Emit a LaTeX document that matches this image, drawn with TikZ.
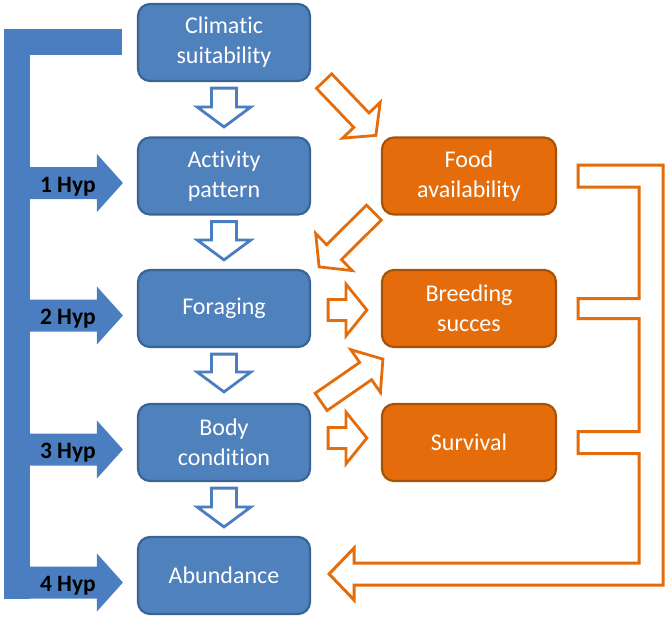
\documentclass[tikz,border=0pt]{standalone}
\usepackage{fontspec}
\setmainfont{Carlito}[Ligatures=NoCommon]
\usetikzlibrary{calc}
\definecolor{bfill}{HTML}{4F81BD}
\definecolor{bline}{HTML}{3A6496}
\definecolor{barw}{HTML}{4A7EC0}
\definecolor{ofill}{HTML}{E46C0A}
\definecolor{oline}{HTML}{A65208}
\tikzset{
 bbox/.style={draw=bline, line width=2.2pt, fill=bfill, rounded corners=12pt,
   minimum width=172pt, minimum height=77pt, text=white, align=center,
   font=\fontsize{24}{30}\selectfont, inner sep=0pt},
 obox/.style={bbox, draw=oline, fill=ofill, minimum width=174pt},
 barrowstyle/.style={draw=barw, line width=2.8pt, fill=white, line join=miter},
 oarrowstyle/.style={draw=ofill, line width=2.8pt, fill=white, line join=miter},
 hyparrow/.style={fill=barw, draw=none},
 hyp/.style={font=\bfseries\fontsize{23.5}{26}\selectfont, text=black, anchor=base, inner sep=0pt},
 obr/.style={draw=ofill, line width=3pt, line join=miter},
}
% style, from, to, shaft half width, head half width, head length
\newcommand\blockarr[6]{%
 \coordinate (ba-h) at ($(#3)!#6!(#2)$);
 \draw[#1] ($(#2)!#4!90:(#3)$) -- ($(ba-h)!#4!90:(#3)$) -- ($(ba-h)!#5!90:(#3)$)
   -- (#3) -- ($(ba-h)!#5!-90:(#3)$) -- ($(ba-h)!#4!-90:(#3)$) -- ($(#2)!#4!-90:(#3)$) -- cycle;
}
\begin{document}
\begin{tikzpicture}[x=1pt,y=-1pt]
\useasboundingbox (0,0) rectangle (666,619);
% blue boxes
\node[bbox] (clim) at (224,42.5) {Climatic\\suitability};
\node[bbox] (act) at (224,176) {Activity\\pattern};
\node[bbox] (forag) at (224,308.5) {Foraging};
\node[bbox] (body) at (224,442.5) {Body\\condition};
\node[bbox] (abund) at (224,575.5) {Abundance};
% orange boxes
\node[obox] (food) at (469,176) {Food\\availability};
\node[obox] (breed) at (469,308.5) {Breeding\\succes};
\node[obox] (surv) at (469,442.5) {Survival};
% left bracket
\coordinate (bartop) at (4,29);
\fill[barw] (bartop) rectangle (30,598.5);
\fill[barw] (bartop) rectangle ($(clim.west)+(-15,12.5)$);
\foreach \n/\t in {act/1,forag/2,body/3,abund/4}{
  \coordinate (hs\t) at ($(\n.west)+(-121,7)$);
  \coordinate (ht\t) at ($(\n.west)+(-14,7)$);
  \blockarr{hyparrow}{hs\t}{ht\t}{16pt}{29pt}{26pt}
  \node[hyp] (hyp\t) at ($(\n.west)+(-69,16)$) {\t\ Hyp};
}
% blue down arrows
\coordinate (d1s) at ($(clim.south)+(0,6)$);  \coordinate (d1e) at ($(act.north)+(0,-9.5)$);
\coordinate (d2s) at ($(act.south)+(0,6)$);   \coordinate (d2e) at ($(forag.north)+(0,-9)$);
\coordinate (d3s) at ($(forag.south)+(0,6)$); \coordinate (d3e) at ($(body.north)+(0,-11)$);
\coordinate (d4s) at ($(body.south)+(0,6)$);  \coordinate (d4e) at ($(abund.north)+(0,-9)$);
\foreach \i in {1,2,3,4}{\blockarr{barrowstyle}{d\i s}{d\i e}{12.5pt}{27pt}{20pt}}
% orange arrows
\coordinate (o1s) at ($(clim.south east)+(13,-1)$);  \coordinate (o1e) at ($(food.north west)+(-5,-1)$);
\coordinate (o2s) at ($(food.south west)+(-7,-3)$);  \coordinate (o2e) at ($(forag.north east)+(8,-2)$);
\coordinate (o3s) at ($(forag.east)+(17,1.5)$);      \coordinate (o3e) at ($(breed.west)+(-14,1.5)$);
\coordinate (o4s) at ($(body.north east)+(10,-1)$);  \coordinate (o4e) at ($(breed.south west)+(2,11)$);
\coordinate (o5s) at ($(body.east)+(17,-4.5)$);      \coordinate (o5e) at ($(surv.west)+(-14,-4.5)$);
\foreach \i in {1,2,3,4,5}{\blockarr{oarrowstyle}{o\i s}{o\i e}{10.5pt}{26pt}{21pt}}
% right bracket to abundance
\coordinate (T) at ($(abund.east)+(18,-1.5)$);
\draw[obr] ($(food.east)+(21,-11)$) -- ($(food.east)+(106,-11)$) |- ($(T)+(25,11)$)
  -- ($(T)+(25,26)$) -- (T) -- ($(T)+(25,-26)$) -- ($(T)+(25,-11)$)
  -| ($(surv.east)+(82,11)$) -- ($(surv.east)+(21,11)$) -- ($(surv.east)+(21,-11)$)
  -- ($(surv.east)+(82,-11)$) |- ($(breed.east)+(21,10)$) -- ($(breed.east)+(21,-10)$)
  -- ($(breed.east)+(82,-10)$) |- ($(food.east)+(21,11)$) -- cycle;
\end{tikzpicture}
\end{document}
